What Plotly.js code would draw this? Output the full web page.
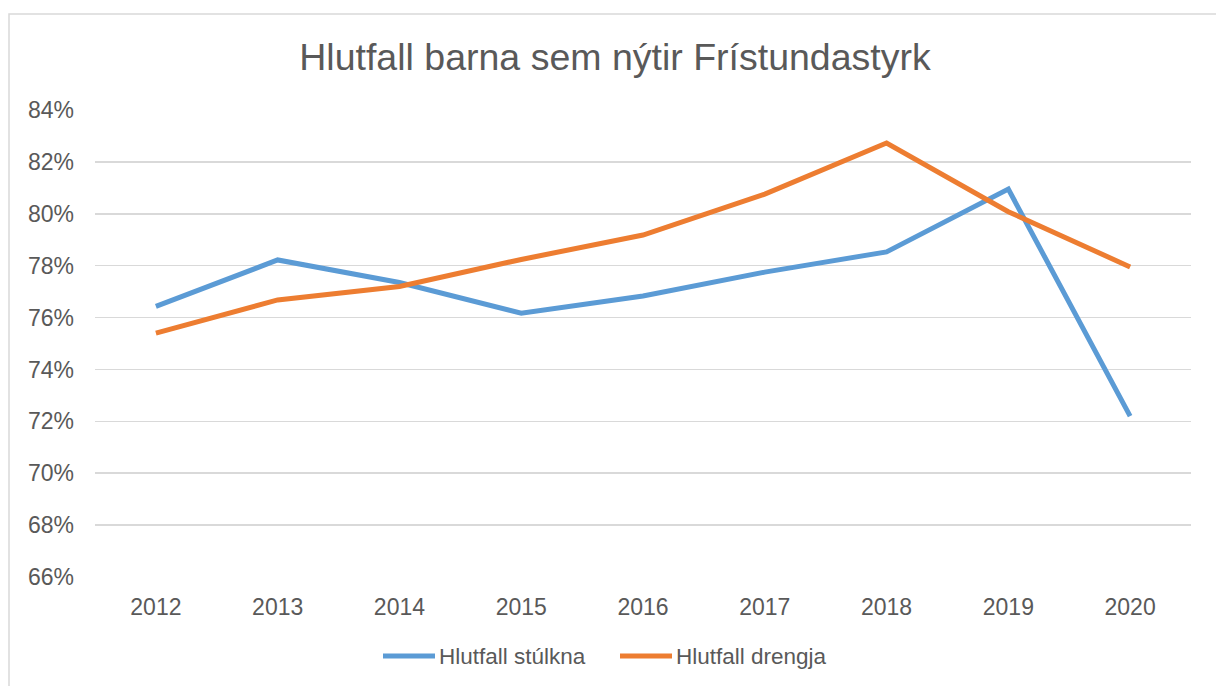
<!DOCTYPE html>
<html>
<head>
<meta charset="utf-8">
<script src="https://cdn.plot.ly/plotly-3.0.1.min.js"></script>
<style>html,body{margin:0;padding:0;background:#fff;}#chart{width:1216px;height:686px;}</style>
</head>
<body>
<div id="chart"></div>
<script>
const years = ['2012','2013','2014','2015','2016','2017','2018','2019','2020'];
const girls = [76.43, 78.22, 77.35, 76.17, 76.83, 77.75, 78.53, 80.95, 72.2];
const boys = [75.4, 76.68, 77.2, 78.24, 79.18, 80.76, 82.73, 80.08, 77.95];
const yTicks = [66, 68, 70, 72, 74, 76, 78, 80, 82, 84];
const yTickText = yTicks.map(v => v + '%');
const seriesNames = ['Hlutfall stúlkna', 'Hlutfall drengja'];
const seriesColors = ['#5B9BD5', '#ED7D31'];

const font = 'Liberation Sans, Arial, sans-serif';
const traces = [
  {x: years, y: girls, name: seriesNames[0], type: 'scatter', mode: 'lines',
   line: {color: seriesColors[0], width: 5}},
  {x: years, y: boys, name: seriesNames[1], type: 'scatter', mode: 'lines',
   line: {color: seriesColors[1], width: 5}}
];

// manual legend (pixel helpers -> paper coords)
const W = 1216, H = 686, ML = 95, MR = 25, MT = 110, MB = 109;
const PW = W - ML - MR, PH = H - MT - MB;
const px = x => (x - ML) / PW;
const py = y => (H - MB - y) / PH;
const legendY = 656;
const legendItems = [{x0: 383, x1: 435, tx: 437}, {x0: 620, x1: 672, tx: 674}];

const shapes = [{type: 'rect', xref: 'paper', yref: 'paper',
  x0: px(9), x1: px(1230), y0: py(700), y1: py(14),
  line: {color: '#D9D9D9', width: 1.5}, fillcolor: 'rgba(0,0,0,0)', layer: 'below'}];
const annotations = [];
legendItems.forEach((it, i) => {
  shapes.push({type: 'line', xref: 'paper', yref: 'paper', x0: px(it.x0), x1: px(it.x1),
    y0: py(legendY), y1: py(legendY), line: {color: seriesColors[i], width: 5}});
  annotations.push({xref: 'paper', yref: 'paper', x: px(it.tx), y: py(legendY),
    xanchor: 'left', yanchor: 'middle', showarrow: false, text: seriesNames[i],
    font: {size: 22.5, color: '#595959', family: font}});
});

const layout = {
  width: W, height: H,
  margin: {l: ML, r: MR, t: MT, b: MB},
  paper_bgcolor: '#fff', plot_bgcolor: '#fff',
  font: {family: font, color: '#595959', size: 23},
  title: {text: 'Hlutfall barna sem nýtir Frístundastyrk', font: {size: 37.5, color: '#595959', family: font},
          x: 615 / W, xanchor: 'center', y: 1 - 57 / H, yanchor: 'middle'},
  xaxis: {type: 'category', range: [-0.5, 8.5], showgrid: false, zeroline: false, showline: false, ticks: '',
          tickfont: {size: 23, color: '#595959'}, ticklabelstandoff: 14},
  yaxis: {range: [66, 84], tickvals: yTicks, ticktext: yTickText, showgrid: true,
          gridcolor: '#D9D9D9', gridwidth: 1.5, zeroline: false, showline: false, ticks: '',
          tickfont: {size: 23, color: '#595959'}, ticklabelstandoff: 20},
  showlegend: false,
  shapes: shapes,
  annotations: annotations,
  hovermode: false
};
Plotly.newPlot('chart', traces, layout, {displayModeBar: false, staticPlot: true});
</script>
</body>
</html>
